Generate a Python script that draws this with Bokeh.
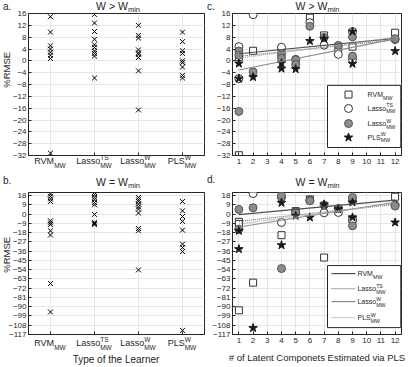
import numpy as np
from bokeh.plotting import figure
from bokeh.models import Label, BoxAnnotation, FixedTicker, Range1d, Div
from bokeh.layouts import column, row
from bokeh.embed import file_html
from bokeh.resources import INLINE

FONT = "Liberation Sans"
DARK = "#262626"
GRID = "#e6e6e6"

# ---------------- data ----------------
learner_main = ["RVM", "Lasso", "Lasso", "PLS"]
learner_sup = ["", "TS", "W", "W"]
learner_sub = ["MW", "MW", "MW", "MW"]

# panel a : W > Wmin, %RMSE per learner
a_rvm = [14.9, 9.7, 5.1, 4.0, 2.9, 1.9, 0.8, -31.2]
a_lasso_ts = [15.7, 12.8, 9.9, 7.3, 5.4, 4.5, 3.3, 2.5, 1.6, -5.8]
a_lasso_w = [12.0, 8.6, 7.7, 3.7, 2.7, 2.2, 1.1, -3.4, -16.6]
a_pls = [9.7, 6.5, 3.4, 2.5, 0.0, -0.6, -2.1, -4.9, -5.8]

# panel b : W = Wmin
b_rvm = [19.5, 17.3, 14.7, 12.3, -6.5, -8.5, -10.3, -16.3, -20.3, -67.5, -95.1]
b_lasso_ts = [21.0, 19.0, 16.3, 14.0, 11.3, 9.0, -0.3, -8.0, -9.2, -10.3]
b_lasso_w = [16.2, 14.0, 12.3, 9.7, 7.1, 4.9, 1.0, -14.0, -16.2, -54.2]
b_pls = [12.3, 3.2, -2.3, -7.1, -15.6, -29.2, -32.5, -36.4, -113.0]

# panel c : W > Wmin vs number of latent components
c_rvm_x = [1, 1, 2, 4, 6, 7, 8, 9, 12]
c_rvm_y = [-31.9, 1.3, 3.4, 3.3, 14.6, 8.6, 4.4, 4.8, 9.5]
c_ts_x = [1, 1, 2, 4, 5, 6, 7, 8, 9, 9, 12]
c_ts_y = [4.8, -6.0, 15.6, 4.6, 0.5, 12.9, 5.3, 2.2, 9.9, 0.5, 7.2]
c_w_x = [1, 1, 1, 2, 4, 4, 5, 5, 6, 7, 8, 9, 9, 12]
c_w_y = [3.3, 1.9, -17.1, -3.7, 1.9, 0.9, 0.3, -1.2, 11.7, 7.9, 5.2, 8.1, 1.6, 7.5]
c_pls_x = [1, 1, 2, 4, 4, 5, 6, 7, 9, 9, 12]
c_pls_y = [-0.9, -6.0, -5.5, -0.8, -2.6, -2.8, 6.7, 7.5, 9.9, -1.0, 3.3]

# panel d : W = Wmin vs number of latent components
d_rvm_x = [1, 1, 1, 2, 4, 5, 6, 7, 8, 9, 9, 12]
d_rvm_y = [-7.5, -9.5, -93.5, -66.6, -20.5, 2.9, 14.3, -42.2, 4.9, 14.0, -5.2, 16.9]
d_ts_x = [2, 4, 4, 5, 6, 7, 8, 9, 12]
d_ts_y = [20.0, 16.2, -8.1, 2.3, 13.5, 1.3, 1.6, -5.8, 8.8]
d_w_x = [1, 1, 2, 4, 4, 5, 6, 7, 8, 9, 9, 12]
d_w_y = [4.5, -14.6, 6.2, 17.9, -52.9, 1.5, 13.0, 8.8, 5.5, 16.2, -11.4, 7.8]
d_pls_x = [1, 1, 2, 4, 4, 5, 6, 7, 8, 9, 9, 12]
d_pls_y = [-16.2, -34.0, -110.7, 11.0, -30.2, -1.6, -3.2, 9.4, 4.9, 11.4, -3.2, -8.1]

# fitted trend lines (value at first / last component count), order RVM, LassoTS, LassoW, PLS
c_trend_start = [2.4, 1.5, -3.1, 0.9]
c_trend_end = [7.6, 7.1, 7.4, 7.9]
d_trend_start = [-0.5, -7.0, -12.5, -9.5]
d_trend_end = [13.5, 9.5, 11.5, 10.0]

ticks_top = list(range(-32, 17, 4))
ticks_bot = list(range(-117, 19, 9))
ticks_comp = list(range(1, 13))

# ---------------- helpers ----------------
ARIAL = {'R': .722, 'V': .667, 'M': .833, 'W': .944, 'L': .556, 'a': .556, 's': .5,
         'o': .556, 'P': .667, 'S': .667, 'T': .611, 'm': .833, 'i': .222, 'n': .556,
         ' ': .278, '>': .584, '=': .584}


def tw(text, size):
    return sum(ARIAL.get(ch, .556) for ch in text) * size


line_styles = [("#4d4d4d", "solid"), ("#707070", "1 1"), ("#8c8c8c", "solid"), ("#a6a6a6", "1 1")]

# ---------------- geometry (page px) ----------------
PAGE_W, PAGE_H = 409, 367
LW, RW = 208, 201
BL_L, BR_L = 28, 4
BL_R, BR_R = 24, 8
FRAME_H = 142
ROW1_H, ROW2_H = 176, 191
T1, T2 = 13, 16
B1, B2 = ROW1_H - T1 - FRAME_H, ROW2_H - T2 - FRAME_H

xr_cat = (0.5, 4.5)
xr_comp = (0.55, 12.45)
yr_top = (-32, 16)
yr_bot = (-117, 21)


def make_fig(width, height, xr, yr, yticks, xticks, bl, br, bt, bb):
    p = figure(width=width, height=height, x_range=Range1d(*xr), y_range=Range1d(*yr),
               output_backend="svg", toolbar_location=None, tools="",
               min_border_left=bl, min_border_right=br, min_border_top=bt, min_border_bottom=bb)
    p.background_fill_color = "white"
    p.border_fill_color = "white"
    p.outline_line_color = DARK
    p.outline_line_width = 1
    p.yaxis.ticker = FixedTicker(ticks=yticks)
    p.xaxis.ticker = FixedTicker(ticks=xticks)
    for ax in (p.xaxis[0], p.yaxis[0]):
        ax.major_tick_in = 3
        ax.major_tick_out = 0
        ax.minor_tick_line_color = None
        ax.axis_line_color = DARK
        ax.major_tick_line_color = DARK
        ax.major_label_text_font = FONT
        ax.major_label_text_font_size = "8px"
        ax.major_label_text_color = DARK
        ax.major_label_standoff = 2
        ax.axis_label_text_font = FONT
        ax.axis_label_text_font_style = "normal"
        ax.axis_label_text_color = DARK
    p.xgrid.grid_line_color = GRID
    p.ygrid.grid_line_color = GRID
    p.xgrid.ticker = FixedTicker(ticks=xticks)
    p.ygrid.ticker = FixedTicker(ticks=yticks)
    return p


def lab(p, x, y, text, size, xo=0, yo=0, align="left", base="middle"):
    p.add_layout(Label(x=x, y=y, x_offset=xo, y_offset=yo, text=text, text_font=FONT,
                       text_font_size=f"{size}px", text_color=DARK, text_align=align,
                       text_baseline=base))


# ---------------- panels a, b ----------------
pa = make_fig(LW, ROW1_H, xr_cat, yr_top, ticks_top, [1, 2, 3, 4], BL_L, BR_L, T1, B1)
pb = make_fig(LW, ROW2_H, xr_cat, yr_bot, ticks_bot, [1, 2, 3, 4], BL_L, BR_L, T2, B2)
for p, groups in ((pa, [a_rvm, a_lasso_ts, a_lasso_w, a_pls]),
                  (pb, [b_rvm, b_lasso_ts, b_lasso_w, b_pls])):
    for i, vals in enumerate(groups):
        p.scatter([i + 1] * len(vals), vals, marker="x", size=7, line_color="black", line_width=1)
    p.xaxis.major_label_overrides = {1: "", 2: "", 3: "", 4: ""}

# ---------------- panels c, d ----------------
pc = make_fig(RW, ROW1_H, xr_comp, yr_top, ticks_top, ticks_comp, BL_R, BR_R, T1, B1)
pd_ = make_fig(RW, ROW2_H, xr_comp, yr_bot, ticks_bot, ticks_comp, BL_R, BR_R, T2, B2)

marker_specs = [
    dict(marker="square", size=7, fill_color="white", line_color="#333333"),
    dict(marker="circle", size=8, fill_color="white", line_color="#333333"),
    dict(marker="circle", size=8, fill_color="#8c8c8c", line_color="#555555"),
    dict(marker="star", size=9, fill_color="#1a1a1a", line_color="#1a1a1a"),
]

for p, xs, ys, t0, t1 in (
        (pc, [c_rvm_x, c_ts_x, c_w_x, c_pls_x], [c_rvm_y, c_ts_y, c_w_y, c_pls_y], c_trend_start, c_trend_end),
        (pd_, [d_rvm_x, d_ts_x, d_w_x, d_pls_x], [d_rvm_y, d_ts_y, d_w_y, d_pls_y], d_trend_start, d_trend_end)):
    for spec, x, y in zip(marker_specs, xs, ys):
        p.scatter(x, y, line_width=1, **spec)
    lo = min(min(x) for x in xs)
    hi = max(max(x) for x in xs)
    for (col, dash), a0, a1 in zip(line_styles, t0, t1):
        p.line([lo, hi], [a0, a1], line_color=col, line_dash=dash, line_width=1.2)
    p.xaxis.major_label_standoff = 3

pd_.xaxis.axis_label = "# of Latent Componets Estimated via PLS"
pd_.xaxis.axis_label_text_font_size = "9.5px"
pd_.xaxis.axis_label_standoff = 6


# ---------------- legends ----------------
def legend_text(p, x, y, i, size):
    m, sp, sb = learner_main[i], learner_sup[i], learner_sub[i]
    wm = tw(m, size)
    lab(p, x, y, m, size)
    if sp:
        lab(p, x, y, sp, size * 0.75, xo=wm, yo=3)
    lab(p, x, y, sb, size * 0.75, xo=wm, yo=-3)


leg_c_rows = [-11.4, -16.1, -21.2, -25.9]
pc.add_layout(BoxAnnotation(left=7.24, right=12.4, top=-8.3, bottom=-29.3, fill_color="white",
                            fill_alpha=1, line_color=DARK, line_width=1, line_alpha=1))
for i, (spec, ry) in enumerate(zip(marker_specs, leg_c_rows)):
    r = pc.scatter([8.72], [ry], line_width=1, **spec)
    r.level = "overlay"
    legend_text(pc, 10.06, ry, i, 7)

leg_d_rows = [-57.8, -72.4, -85.0, -100.6]
pd_.add_layout(BoxAnnotation(left=7.24, right=12.4, top=-50, bottom=-110.3, fill_color="white",
                             fill_alpha=1, line_color=DARK, line_width=1, line_alpha=1))
for i, ((col, dash), ry) in enumerate(zip(line_styles, leg_d_rows)):
    r = pd_.line([7.52, 9.21], [ry, ry], line_color=col, line_dash=dash, line_width=1.2)
    r.level = "overlay"
    legend_text(pd_, 9.35, ry, i, 7)


# ---------------- text overlay (titles, panel letters, category labels) ----------------
def txt(x, baseline, html, size, align="left", extra=""):
    top = baseline - 0.8465 * size
    if align == "left":
        pos = f"left:{x:.1f}px;"
    elif align == "center":
        pos = f"left:{x - 150:.1f}px;width:300px;text-align:center;"
    else:
        pos = f"left:{x - 300:.1f}px;width:300px;text-align:right;"
    return (f'<div style="position:absolute;{pos}top:{top:.1f}px;font-size:{size}px;'
            f'line-height:1;white-space:nowrap;{extra}">{html}</div>')


def title_html(cx, base, rel):
    w1, w2 = tw(f"W {rel} W", 10.5), tw("min", 7.5)
    left = cx - (w1 + w2) / 2
    sym = "&gt;" if rel == ">" else "="
    return txt(left, base, f"W {sym} W", 10.5) + txt(left + w1, base + 2.5, "min", 7.5)


def cat_html(box_left, box_w, xr, base):
    out = []
    for i, (m, sp, sb) in enumerate(zip(learner_main, learner_sup, learner_sub)):
        t = i + 1
        cx = box_left + (t - xr[0]) / (xr[1] - xr[0]) * box_w
        wm = tw(m, 9)
        ws = max(tw(sp, 6.5), tw(sb, 6.5))
        left = cx - (wm + ws) / 2
        out.append(txt(left, base, m, 9))
        if sp:
            out.append(txt(left + wm, base - 4.5, sp, 6.5))
        out.append(txt(left + wm, base + 3.5, sb, 6.5))
    return "".join(out)


def ylabel_html(cx, cy, text, size):
    return (f'<div style="position:absolute;left:{cx - 50:.1f}px;top:{cy - size / 2:.1f}px;width:100px;'
            f'text-align:center;font-size:{size}px;line-height:1;white-space:nowrap;'
            f'transform:rotate(-90deg)">{text}</div>')


box_a_left = BL_L
box_a_w = LW - BL_L - BR_L
box_c_left = LW + BL_R
box_c_w = RW - BL_R - BR_R
cx_a = box_a_left + box_a_w / 2 + 2
cx_c = box_c_left + box_c_w / 2 + 1

parts = [
    txt(3, 10, "a.", 10), title_html(cx_a, 10, ">"),
    txt(207, 10, "c.", 10), title_html(cx_c, 10, ">"),
    txt(3, 184, "b.", 10), title_html(cx_a, 186, "="),
    txt(207, 183, "d.", 10), title_html(cx_c, 186, "="),
    cat_html(box_a_left, box_a_w, xr_cat, T1 + FRAME_H + 9.5),
    cat_html(box_a_left, box_a_w, xr_cat, ROW1_H + T2 + FRAME_H + 13),
    txt(box_a_left + box_a_w / 2, 363, "Type of the Learner", 10, align="center"),
    ylabel_html(7, 70, "%RMSE", 9.5),
    ylabel_html(7, 255, "%RMSE", 9.5),
]
overlay = Div(text=(f'<div style="position:relative;width:{PAGE_W}px;height:{PAGE_H}px;'
                    f'font-family:\'{FONT}\';color:{DARK}">' + "".join(parts) + '</div>'),
              width=PAGE_W, height=PAGE_H, margin=(0, 0, 0, 0),
              styles={"position": "absolute", "left": "0px", "top": "0px", "z-index": "10",
                      "pointer-events": "none"})

layout = column(row(pa, pc), row(pb, pd_), overlay)
open("out.html", "w").write(file_html(layout, INLINE))
